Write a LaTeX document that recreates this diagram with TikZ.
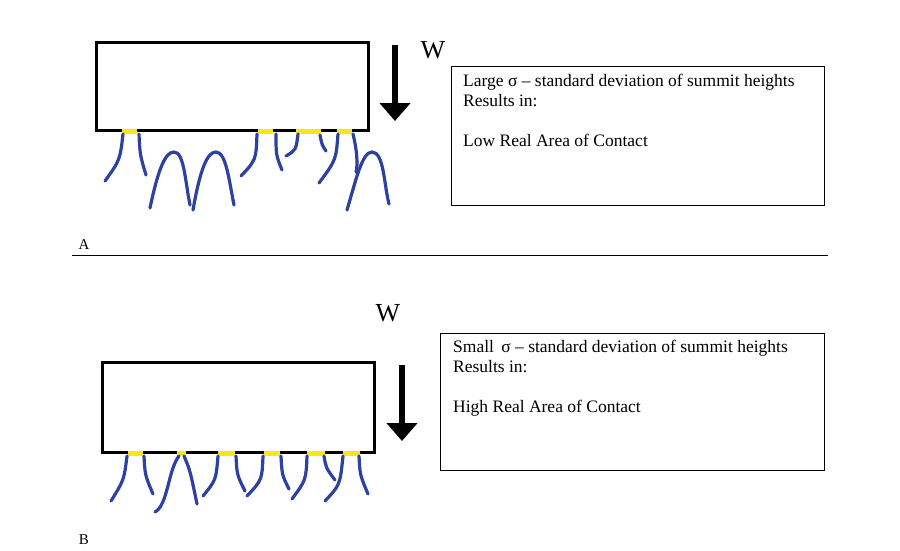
\documentclass[tikz,border=0pt]{standalone}
\usepackage{fontspec}
\setmainfont{Liberation Serif}
\usetikzlibrary{arrows.meta}
\begin{document}
\begin{tikzpicture}[x=1pt,y=-1pt,
  asp/.style={draw={rgb,255:red,45;green,65;blue,160},line width=3.2pt,line cap=round},
  pad/.style={draw={rgb,255:red,245;green,230;blue,30},line width=5pt},
  blk/.style={draw=black,line width=3pt},
  tbox/.style={draw=black,line width=0.8pt},
  load/.style={line width=6pt,-{Triangle[length=18pt,width=30pt]}},
  lbl/.style={font=\fontsize{17.5}{20}\selectfont,anchor=north west,align=left,inner sep=0pt}]
\useasboundingbox (0,0) rectangle (900,550);
% Panel A
\draw[blk] (96,42) rectangle (368,130);
\foreach \a/\b in {122/137,258/273,296/321,337/352} \draw[pad] (\a,131) -- (\b,131);
\draw[asp] (123,134) .. controls (120,160) .. (105,181);
\draw[asp] (139,134) .. controls (140,155) .. (146,175);
\draw[asp] (150,208) .. controls (158,170) and (165,152) .. (174,152) .. controls (184,152) and (185,180) .. (190,205);
\draw[asp] (193,210) .. controls (200,170) and (207,152) .. (216,152) .. controls (226,152) and (229,180) .. (234,205);
\draw[asp] (257,134) .. controls (256,160) .. (241,176);
\draw[asp] (276,134) .. controls (276,155) .. (282,170);
\draw[asp] (298,134) .. controls (296,150) .. (286,156);
\draw[asp] (320,135) .. controls (322,145) .. (326,151);
\draw[asp] (338,134) .. controls (336,160) .. (319,183);
\draw[asp] (353,134) .. controls (357,150) and (358,165) .. (356,172);
\draw[asp] (347,210) .. controls (356,180) and (362,152) .. (372,152) .. controls (384,152) and (384,185) .. (389,204);
\node (wa) at (433,50) {\fontsize{26}{28}\selectfont W};
\coordinate (a1) at (395,45); \coordinate (a2) at (395,121);
\draw[load] (a1) -- (a2);
\draw[tbox] (451,66) rectangle (824,205);
\node[lbl] (ta) at (463,74) {Large σ – standard deviation of summit heights\\Results in:\\[20pt]Low Real Area of Contact};
\node[inner sep=0pt] (la) at (84,245) {\fontsize{15}{17}\selectfont A};
\draw[line width=0.6pt] (72,255) -- (828,255);
% Panel B
\draw[blk] (102,362) rectangle (374,452);
\foreach \a/\b in {128/143,177/186,218/235,264/280,307/325,343/360} \draw[pad] (\a,453) -- (\b,453);
\draw[asp] (127,456) .. controls (124,480) .. (111,501);
\draw[asp] (144,456) .. controls (145,475) .. (153,494);
\draw[asp] (179,456) .. controls (168,470) and (168,505) .. (155,512);
\draw[asp] (184,456) .. controls (190,470) .. (197,504);
\draw[asp] (218,456) .. controls (216,480) .. (203,496);
\draw[asp] (236,456) .. controls (237,475) .. (245,491);
\draw[asp] (263,456) .. controls (262,480) .. (247,496);
\draw[asp] (281,456) .. controls (282,475) .. (289,489);
\draw[asp] (307,456) .. controls (306,480) .. (292,499);
\draw[asp] (324,456) .. controls (326,468) .. (335,480);
\draw[asp] (343,456) .. controls (340,485) .. (325,501);
\draw[asp] (359,456) .. controls (360,475) .. (368,494);
\node (wb) at (388,313) {\fontsize{26}{28}\selectfont W};
\coordinate (b1) at (402,365); \coordinate (b2) at (402,441);
\draw[load] (b1) -- (b2);
\draw[tbox] (440,333) rectangle (824,470);
\node[lbl] (tb) at (453,340) {Small\, σ – standard deviation of summit heights\\Results in:\\[20pt]High Real Area of Contact};
\node[inner sep=0pt] (lb) at (84,540) {\fontsize{15}{17}\selectfont B};
\end{tikzpicture}
\end{document}
